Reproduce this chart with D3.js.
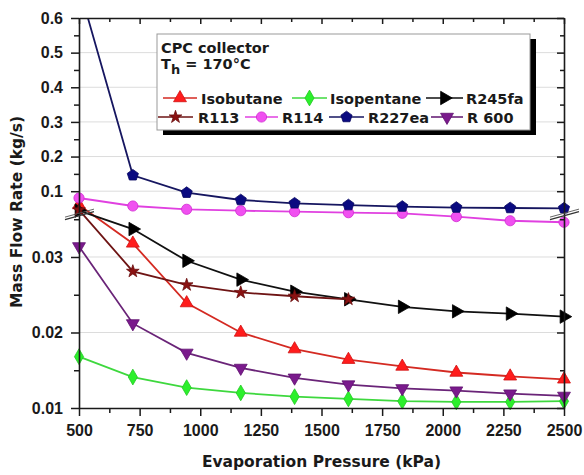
<!DOCTYPE html>
<html>
<head>
<meta charset="utf-8">
<script src="https://cdn.jsdelivr.net/npm/d3@7"></script>
<style>
  html, body { margin: 0; padding: 0; background: #fff; }
  svg { display: block; }
  .tick text { font-family: "Liberation Sans", Arial, sans-serif; font-weight: bold; font-size: 16px; fill: #1a1a1a; }
  .lbl { font-family: "DejaVu Sans", sans-serif; font-weight: bold; fill: #1a1a1a; }
</style>
</head>
<body>
<div id="chart"></div>
<script>
// ---- data ----
const pressure = [500, 722, 944, 1167, 1389, 1611, 1833, 2056, 2278, 2500];
const isobutane = [0.060, 0.0318, 0.0239, 0.0200, 0.0178, 0.0164, 0.0155, 0.0147, 0.0142, 0.0138];
const isopentane = [0.0168, 0.0141, 0.0127, 0.0120, 0.0115, 0.0112, 0.0109, 0.0108, 0.0108, 0.0109];
const r245fa = [0.044, 0.0337, 0.0295, 0.0270, 0.0254, 0.0244, 0.0234, 0.0228, 0.0225, 0.0221];
const r113 = [0.046, 0.0281, 0.0263, 0.0253, 0.0248, 0.0244];
const r114 = [0.0804, 0.0573, 0.0478, 0.0437, 0.0409, 0.0395, 0.0391, 0.0368, 0.0348, 0.0346];
const r227ea = [0.69, 0.146, 0.0957, 0.0746, 0.065, 0.060, 0.0557, 0.0528, 0.0515, 0.0507];
const r600 = [0.0314, 0.0212, 0.0173, 0.0153, 0.0140, 0.0131, 0.0126, 0.0123, 0.0119, 0.0116];

const seriesNames = ["Isobutane", "Isopentane", "R245fa", "R113", "R114", "R227ea", "R 600"];
const seriesValues = [isobutane, isopentane, r245fa, r113, r114, r227ea, r600];

const xTicks = [500, 750, 1000, 1250, 1500, 1750, 2000, 2250, 2500];
const xMinorTicks = [625, 875, 1125, 1375, 1625, 1875, 2125, 2375];
const yTicksLow = [0.01, 0.02, 0.03];
const yTicksHigh = [0.1, 0.2, 0.3, 0.4, 0.5, 0.6];
const yMinorTicks = [0.015, 0.025, 0.035, 0.15, 0.25, 0.35, 0.45, 0.55];
const yGrid = [0.02, 0.03, 0.1, 0.2, 0.3, 0.4, 0.5];
const yBreak = [0.035, 0.04]; // axis break: lower part ends, upper part starts

// ---- styles ----
const styles = {
  "Isobutane": { line: "#d42a22", fill: "#ff1c1c", stroke: "#d01010", shape: "triUp", size: 72 },
  "Isopentane": { line: "#3ed83e", fill: "#2cf02c", stroke: "#22c822", shape: "diamond", size: 72 },
  "R245fa": { line: "#111", fill: "#000", stroke: "#000", shape: "triRight", size: 78 },
  "R113": { line: "#6e1414", fill: "#8a1212", stroke: "#6a0e0e", shape: "star", size: 50 },
  "R114": { line: "#e040e0", fill: "#f050f0", stroke: "#d028d0", shape: "circle", size: 82 },
  "R227ea": { line: "#161660", fill: "#0a0a80", stroke: "#060660", shape: "pentagon", size: 82 },
  "R 600": { line: "#6a2478", fill: "#7a1a8c", stroke: "#601070", shape: "triDown", size: 72 }
};

const width = 584, height = 475;
const margin = { top: 18, right: 20, bottom: 67, left: 79 };
const w = width - margin.left - margin.right;
const h = height - margin.top - margin.bottom;

const svg = d3.select("#chart").append("svg")
  .attr("width", width)
  .attr("height", height);

const g = svg.append("g").attr("transform", `translate(${margin.left},${margin.top})`);

const x = d3.scaleLinear().domain([500, 2500]).range([0, w]);
// broken y axis: two linear parts
const y = d3.scaleLinear()
  .domain([0.01, yBreak[0], yBreak[1], 0.6])
  .range([h, h * (1 - 0.484), h * 0.4974, 0]);

// custom pentagon symbol
const symbolPentagon = {
  draw(ctx, size) {
    const r = Math.sqrt(size / 2.378);
    for (let i = 0; i < 5; i++) {
      const a = -Math.PI / 2 + i * 2 * Math.PI / 5;
      if (i === 0) ctx.moveTo(r * Math.cos(a), r * Math.sin(a));
      else ctx.lineTo(r * Math.cos(a), r * Math.sin(a));
    }
    ctx.closePath();
  }
};
const shapeType = {
  triUp: [d3.symbolTriangle, 0],
  triDown: [d3.symbolTriangle, 180],
  triRight: [d3.symbolTriangle, 90],
  diamond: [d3.symbolDiamond, 0],
  star: [d3.symbolStar, 0],
  circle: [d3.symbolCircle, 0],
  pentagon: [symbolPentagon, 0]
};
function drawMarker(sel, st, cx, cy) {
  const [type, rot] = shapeType[st.shape];
  sel.append("path")
    .attr("d", d3.symbol().type(type).size(st.size)())
    .attr("transform", `translate(${cx},${cy}) rotate(${rot})`)
    .attr("fill", st.fill)
    .attr("stroke", st.stroke)
    .attr("stroke-width", 0.8);
}

// gridlines
g.append("g").selectAll("line").data(yGrid).enter().append("line")
  .attr("x1", 0).attr("x2", w)
  .attr("y1", d => y(d)).attr("y2", d => y(d))
  .attr("stroke", "#dcdcdc").attr("stroke-width", 1);

// clip lines to plot height
svg.append("defs").append("clipPath").attr("id", "plotclip")
  .append("rect").attr("x", -10).attr("y", 0).attr("width", w + 20).attr("height", h);

const line = d3.line().x(d => x(d[0])).y(d => y(d[1]));

seriesNames.forEach((name, i) => {
  const st = styles[name];
  const pts = seriesValues[i].map((v, j) => [pressure[j], v]);
  g.append("path")
    .datum(pts)
    .attr("clip-path", "url(#plotclip)")
    .attr("fill", "none")
    .attr("stroke", st.line)
    .attr("stroke-width", 1.8)
    .attr("d", line);
  const mg = g.append("g");
  pts.filter(p => p[1] <= 0.6).forEach(p => drawMarker(mg, st, x(p[0]), y(p[1])));
});

// ---- axes ----
function styleAxis(sel) {
  sel.select(".domain").attr("stroke", "#1a1a1a").attr("stroke-width", 1.6);
  sel.selectAll(".tick line").attr("stroke", "#1a1a1a").attr("stroke-width", 1.5);
}

// bottom
g.append("g").attr("transform", `translate(0,${h})`)
  .call(d3.axisBottom(x).tickValues(xTicks).tickSize(8).tickSizeOuter(0).tickPadding(9).tickFormat(d3.format("d")))
  .call(styleAxis);
g.append("g").attr("transform", `translate(0,${h})`)
  .call(d3.axisBottom(x).tickValues(xMinorTicks).tickSize(5).tickFormat(""))
  .call(styleAxis).select(".domain").remove();
// top
g.append("g")
  .call(d3.axisTop(x).tickValues(xTicks).tickSize(-6).tickSizeOuter(0).tickFormat(""))
  .call(styleAxis);
g.append("g")
  .call(d3.axisTop(x).tickValues(xMinorTicks).tickSize(-4).tickFormat(""))
  .call(styleAxis).select(".domain").remove();
// left
g.append("g")
  .call(d3.axisLeft(y).tickValues(yTicksLow.concat(yTicksHigh)).tickSize(8).tickSizeOuter(0).tickPadding(8).tickFormat(d => String(d)))
  .call(styleAxis);
g.append("g")
  .call(d3.axisLeft(y).tickValues(yMinorTicks).tickSize(5).tickFormat(""))
  .call(styleAxis).select(".domain").remove();
// right
g.append("g").attr("transform", `translate(${w},0)`)
  .call(d3.axisRight(y).tickValues(yTicksLow.concat(yTicksHigh)).tickSize(-7).tickSizeOuter(0).tickFormat(""))
  .call(styleAxis);
g.append("g").attr("transform", `translate(${w},0)`)
  .call(d3.axisRight(y).tickValues(yMinorTicks).tickSize(-4).tickFormat(""))
  .call(styleAxis).select(".domain").remove();

// axis break marks
const yb = (y(yBreak[0]) + y(yBreak[1])) / 2;
[0, w].forEach((ax) => {
  const bg = g.append("g").attr("transform", `translate(${ax},${yb})`);
  bg.append("line").attr("x1", -14).attr("x2", 15).attr("y1", 4).attr("y2", -4)
    .attr("stroke", "#333").attr("stroke-width", 1.2);
  bg.append("line").attr("x1", -14).attr("x2", 15).attr("y1", 1.5).attr("y2", -6.5)
    .attr("stroke", "#555").attr("stroke-width", 0.9);
});

// axis titles
svg.append("text").attr("class", "lbl")
  .attr("x", margin.left + w / 2).attr("y", 467)
  .attr("text-anchor", "middle").style("font-size", "15.5px")
  .text("Evaporation Pressure (kPa)");
svg.append("text").attr("class", "lbl")
  .attr("transform", `translate(22,${212}) rotate(-90)`)
  .attr("text-anchor", "middle").style("font-size", "15.5px")
  .text("Mass Flow Rate (kg/s)");

// ---- legend ----
const lg = svg.append("g");
lg.append("rect").attr("x", 163).attr("y", 39).attr("width", 373).attr("height", 96).attr("fill", "#000");
lg.append("rect").attr("x", 157).attr("y", 34).attr("width", 373).attr("height", 96)
  .attr("fill", "#fff").attr("stroke", "#999").attr("stroke-width", 1);

lg.append("text").attr("class", "lbl").attr("x", 161).attr("y", 53)
  .style("font-size", "14.5px").text("CPC collector");
const th = lg.append("text").attr("class", "lbl").attr("x", 161).attr("y", 69).style("font-size", "14.5px");
th.append("tspan").text("T");
th.append("tspan").attr("dy", 5).style("font-size", "13px").text("h");
th.append("tspan").attr("dy", -5).text(" = 170°C");

const legendLayout = [
  { x0: 163, x1: 197, tx: 201, y: 98 },
  { x0: 292, x1: 327, tx: 330, y: 98 },
  { x0: 426, x1: 463, tx: 466, y: 98 },
  { x0: 158, x1: 193, tx: 198, y: 117 },
  { x0: 245, x1: 278, tx: 282, y: 117 },
  { x0: 329, x1: 364, tx: 368, y: 117 },
  { x0: 431, x1: 463, tx: 467, y: 117 }
];
seriesNames.forEach((name, i) => {
  const st = styles[name], L = legendLayout[i];
  lg.append("line").attr("x1", L.x0).attr("x2", L.x1).attr("y1", L.y).attr("y2", L.y)
    .attr("stroke", st.line).attr("stroke-width", 1.6);
  drawMarker(lg, st, (L.x0 + L.x1) / 2, L.y);
  lg.append("text").attr("class", "lbl").attr("x", L.tx).attr("y", L.y + 5.5)
    .style("font-size", "14.5px").text(name);
});
</script>
</body>
</html>
